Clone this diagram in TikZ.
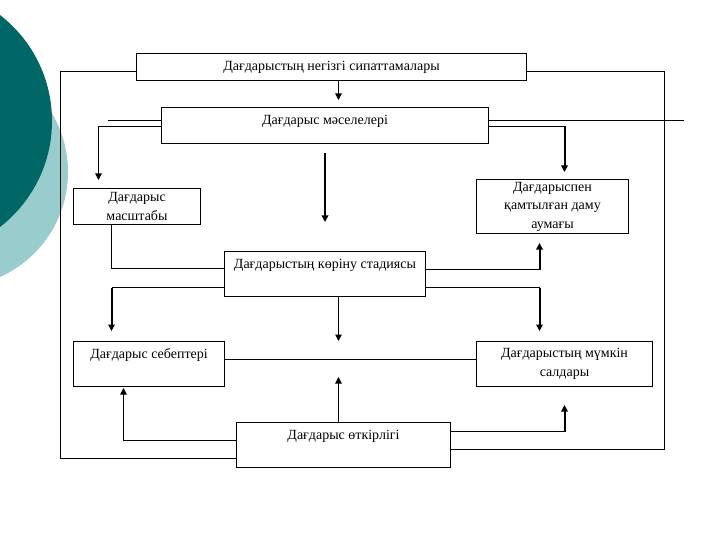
\documentclass[tikz,border=0pt]{standalone}
\usepackage{fontspec}
\setmainfont{Liberation Serif}
\usetikzlibrary{arrows.meta}

\definecolor{tengiz}{RGB}{0,102,102}
\definecolor{tengizash}{RGB}{153,204,204}

\tikzset{
    blok/.style={draw, line width=1pt, inner sep=0pt, align=center,
        font=\fontsize{14}{18.5}\selectfont, anchor=north west},
    jogary/.style={text height=17pt, text depth=#1},
    jol/.style={line width=1pt},
    jolq/.style={line width=2pt},
    nus/.style={-{Triangle[length=6.5pt,width=6.5pt]}},
}

\begin{document}
\begin{tikzpicture}[x=1pt, y=-1pt]
    \useasboundingbox (0,0) rectangle (720,540);
    % fon
    \fill[tengizash] (-47,172) circle (115);
    \fill[tengiz] (-82,121) circle (134);

    % bloktar
    \node[blok, minimum width=390, minimum height=27] (negizgi) at (136,53)
        {Дағдарыстың негізгі сипаттамалары};
    \node[blok, minimum width=327, minimum height=36, jogary=19pt] (maseleler) at (161,107)
        {Дағдарыс мәселелері};
    \node[blok, minimum width=127, minimum height=36] (masshtab) at (73,188)
        {Дағдарыс\\масштабы};
    \node[blok, minimum width=152, minimum height=54] (aumak) at (476,179)
        {Дағдарыспен\\қамтылған даму\\аумағы};
    \node[blok, minimum width=201, minimum height=45, jogary=28pt] (stadiya) at (224,251)
        {Дағдарыстың көріну стадиясы};
    \node[blok, minimum width=151, minimum height=45, jogary=28pt] (sebep) at (73,341)
        {Дағдарыс себептері};
    \node[blok, minimum width=176, minimum height=45] (saldar) at (476,341)
        {Дағдарыстың мүмкін\\салдары};
    \node[blok, minimum width=214, minimum height=45, jogary=28pt] (otkirlik) at (236,422)
        {Дағдарыс өткірлігі};

    % syrtqy rama
    \coordinate (ramaL) at (60,458);
    \coordinate (ramaR) at (664,449);
    \draw[jol] ([yshift=-4.5pt]negizgi.west) -| (ramaL) -- (ramaL -| otkirlik.west);
    \draw[jol] ([yshift=-4.5pt]negizgi.east) -| (ramaR) -- (ramaR -| otkirlik.east);

    % negizgi -> maseleler
    \draw[jol, nus] ([xshift=7pt]negizgi.south) -- ([xshift=13.5pt,yshift=7pt]maseleler.north);

    % maseleler
    \draw[jol] ([yshift=5pt]maseleler.west) -- ++(-53,0);
    \draw[jol] ([yshift=5pt]maseleler.east) -- ++(195,0);
    \draw[jol, nus] ([yshift=-1pt]maseleler.west) -| ([xshift=-38.5pt,yshift=8pt]masshtab.north);
    \coordinate (m1) at ([yshift=-1pt]maseleler.east);
    \coordinate (a1) at ([xshift=12pt,yshift=7pt]aumak.north);
    \draw[jol] (m1) -- (m1 -| a1);
    \draw[jolq, nus] (m1 -| a1) -- (a1);
    \draw[jolq, nus] ([yshift=-9pt]maseleler.south) -- ([yshift=29pt]stadiya.north);

    % stadiya
    \draw[jol] ([xshift=-25.5pt]masshtab.south) |- ([yshift=5.5pt]stadiya.west);
    \coordinate (s1) at ([yshift=4.5pt]stadiya.east);
    \coordinate (a2) at ([xshift=-13pt,yshift=-9pt]aumak.south);
    \draw[jol] (s1) -- (s1 -| a2);
    \draw[jolq, nus] (s1 -| a2) -- (a2);
    \coordinate (s2) at ([yshift=-13.5pt]stadiya.west);
    \coordinate (c1) at ([xshift=-37.5pt,yshift=10pt]sebep.north);
    \draw[jol] (s2) -- (s2 -| c1);
    \draw[jolq, nus] (s2 -| c1) -- (c1);
    \coordinate (s3) at ([yshift=-13.5pt]stadiya.east);
    \coordinate (d1) at ([xshift=-25pt,yshift=10pt]saldar.north);
    \draw[jol] (s3) -- (s3 -| d1);
    \draw[jolq, nus] (s3 -| d1) -- (d1);
    \coordinate (s4) at ([xshift=13.5pt,yshift=-44pt]stadiya.south);
    \draw[jol, nus] ([xshift=13.5pt]stadiya.south) -- (s4);

    % sebep -- saldar
    \draw[jol] ([yshift=4.5pt]sebep.east) -- ([yshift=4.5pt]saldar.west);

    % otkirlik
    \coordinate (o1) at ([xshift=-5pt,yshift=45pt]otkirlik.north);
    \draw[jol, nus] ([xshift=-5pt]otkirlik.north) -- (o1);
    \draw[jol, nus] ([yshift=4.5pt]otkirlik.west) -| ([xshift=-25.5pt,yshift=-1pt]sebep.south);
    \coordinate (o2) at ([yshift=13.5pt]otkirlik.east);
    \coordinate (d2) at ([yshift=-18pt]saldar.south);
    \draw[jol] (o2) -- (o2 -| d2);
    \draw[jolq, nus] (o2 -| d2) -- (d2);
\end{tikzpicture}
\end{document}
